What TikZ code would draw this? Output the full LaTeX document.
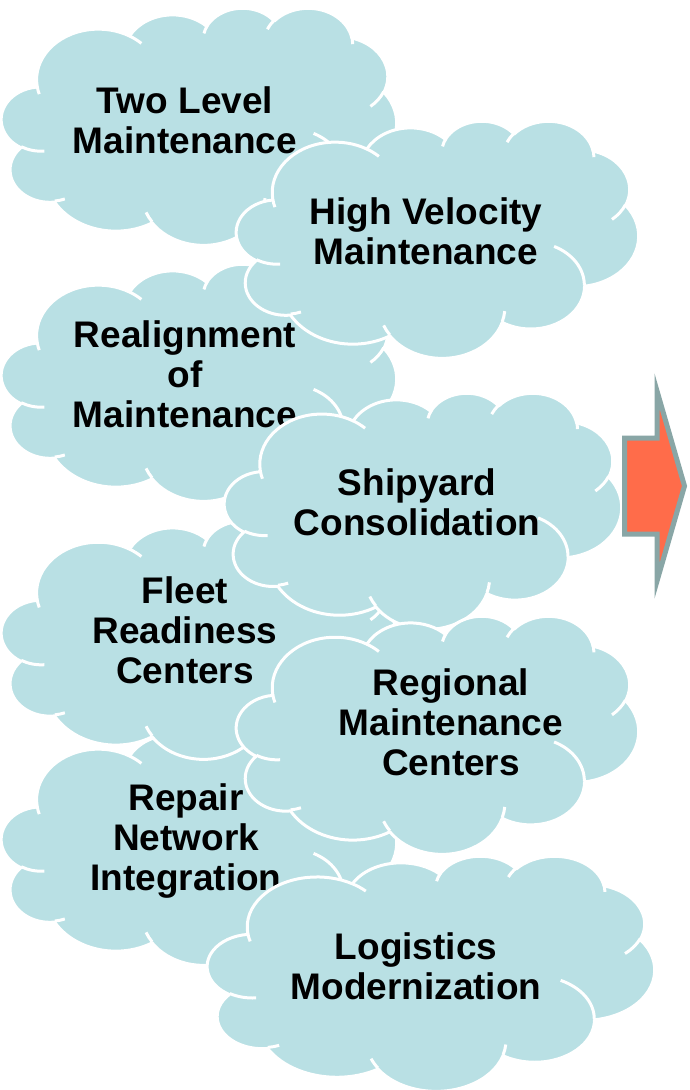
\documentclass[tikz,border=0pt]{standalone}
\usepackage{fontspec}
\setmainfont{Liberation Sans}
\definecolor{cloudfill}{RGB}{185,224,228}
\definecolor{arrowfill}{RGB}{255,108,74}
\definecolor{arrowline}{RGB}{137,166,166}

% visual angle -> parametric angle (ellipse rx, ry)
\newcommand\vpang[4]{%
  \pgfmathsetmacro\vptmp{atan2((#3)*sin(#2),(#4)*cos(#2))}%
  \pgfmathsetmacro#1{\vptmp+360*round(((#2)-\vptmp)/360)}}
\newcommand\mkarc[5]{%
  \vpang\tmpS{#4}{#2}{#3}%
  \vpang\tmpE{#4+#5}{#2}{#3}%
  \expandafter\xdef\csname cloudarc#1\endcsname{arc[x radius=#2,y radius=#3,start angle=\tmpS,end angle=\tmpE]}}

% outer outline
\mkarc{A}{67.53}{91.90}{-190.4875}{123.7805}
\mkarc{B}{53.33}{72.67}{-144.1024}{89.9452}
\mkarc{C}{43.65}{59.45}{-145.8079}{99.7230}
\mkarc{D}{48.57}{65.95}{-130.9861}{117.2417}
\mkarc{E}{53.33}{72.73}{-78.7089}{109.0269}
\mkarc{F}{67.75}{92.20}{-46.2673}{130.2690}
\mkarc{G}{57.85}{78.67}{0.6250}{114.0333}
\mkarc{H}{67.52}{92.15}{22.4516}{115.1726}
\mkarc{I}{77.20}{105.43}{66.2426}{75.7110}
\mkarc{J}{43.60}{59.18}{-274.9421}{146.7356}
\mkarc{K}{43.45}{59.45}{-246.8285}{152.5189}
% inner arcs
\mkarc{a}{43.45}{59.45}{86.7420}{26.4295}
\mkarc{b}{43.60}{59.18}{73.6105}{11.4475}
\mkarc{c}{67.52}{92.15}{137.6242}{14.0811}
\mkarc{d}{67.52}{92.15}{6.4533}{15.9984}
\mkarc{e}{57.85}{78.67}{-70.2924}{70.9174}
\mkarc{f}{53.33}{72.73}{30.3180}{27.7515}
\mkarc{g}{48.57}{65.95}{-13.7443}{14.8589}
\mkarc{h}{48.57}{65.95}{-149.1815}{18.1954}
\mkarc{i}{43.65}{59.45}{-163.4943}{17.6864}
\mkarc{j}{67.53}{91.90}{-66.7070}{12.3194}
\mkarc{k}{67.53}{91.90}{157.6544}{11.8582}

\newcommand\cloudshape{(39.00,143.70) \cloudarcA \cloudarcB \cloudarcC \cloudarcD
  \cloudarcE \cloudarcF \cloudarcG \cloudarcH \cloudarcI \cloudarcJ \cloudarcK -- cycle}
\newcommand\cloudinner{(46.93,261.77) \cloudarca (69.28,348.99) \cloudarcb
  (164.78,390.90) \cloudarcc (288.27,347.51) \cloudarcd (341.29,229.54) \cloudarce
  (417.98,153.54) \cloudarcf (383.24,54.26) \cloudarcg (290.78,39.52) \cloudarch
  (221.41,47.20) \cloudarci (140.00,51.92) \cloudarcj (41.27,157.89) \cloudarck}

\tikzset{
  cloudbody/.style={fill=cloudfill, draw=white, line width=3pt, line join=round},
  cloudline/.style={draw=white, line width=3pt},
  cloudtext/.style={font=\fontsize{37}{40}\selectfont\bfseries, align=center,
    inner sep=0pt, anchor=north, text=black},
  bigarrow/.style={fill=arrowfill, draw=arrowline, line width=5pt, line join=miter}
}

% #1 x0, #2 y0, #3 width, #4 height (pixel coordinates, y downwards)
\newcommand\cloudat[4]{%
  \pgfmathsetmacro\csx{(#3)/432}\pgfmathsetmacro\csy{(#4)/432}%
  \begin{scope}[shift={(#1,#2)}, x=\csx pt, y=-\csy pt]
    \path[cloudbody] \cloudshape;
    \path[cloudline] \cloudinner;
  \end{scope}}

\begin{document}
\begin{tikzpicture}[x=1pt,y=-1pt]
\useasboundingbox (0,0) rectangle (689,1090);
\fill[white] (0,0) rectangle (689,1090);

% left column
\cloudat{1.5}{727.5}{395}{237}
\node[cloudtext] (repair) at (186,780) {\rule{0pt}{30pt}Repair\\Network\\Integration};
\cloudat{1.5}{520.5}{395}{238}
\node[cloudtext] (fleet) at (185,573) {\rule{0pt}{30pt}Fleet\\Readiness\\Centers};
\cloudat{1.5}{263.5}{395}{237}
\node[cloudtext] (realign) at (185,317) {\rule{0pt}{30pt}Realignment\\of\\Maintenance};
\cloudat{1.5}{7.5}{395}{237}
\node[cloudtext] (twolevel) at (185,83) {\rule{0pt}{30pt}Two Level\\Maintenance};

% right column
\cloudat{236.5}{120.5}{402}{237}
\node[cloudtext] (highvel) at (426,194) {\rule{0pt}{30pt}High Velocity\\Maintenance};
\cloudat{224.5}{392.5}{397}{236}
\node[cloudtext] (shipyard) at (417,465) {\rule{0pt}{30pt}Shipyard\\Consolidation};
\cloudat{236.5}{615.5}{402}{238}
\node[cloudtext] (regional) at (451,665) {\rule{0pt}{30pt}Regional\\Maintenance\\Centers};
\cloudat{207.5}{855.5}{447}{235}
\node[cloudtext] (logistics) at (416,929) {\rule{0pt}{30pt}Logistics\\Modernization};

% arrow
\path[bigarrow] (624.5,438) -- (657,438) -- (657,391) -- (684.5,486)
  -- (657,581) -- (657,534) -- (624.5,534) -- cycle;
\end{tikzpicture}
\end{document}
